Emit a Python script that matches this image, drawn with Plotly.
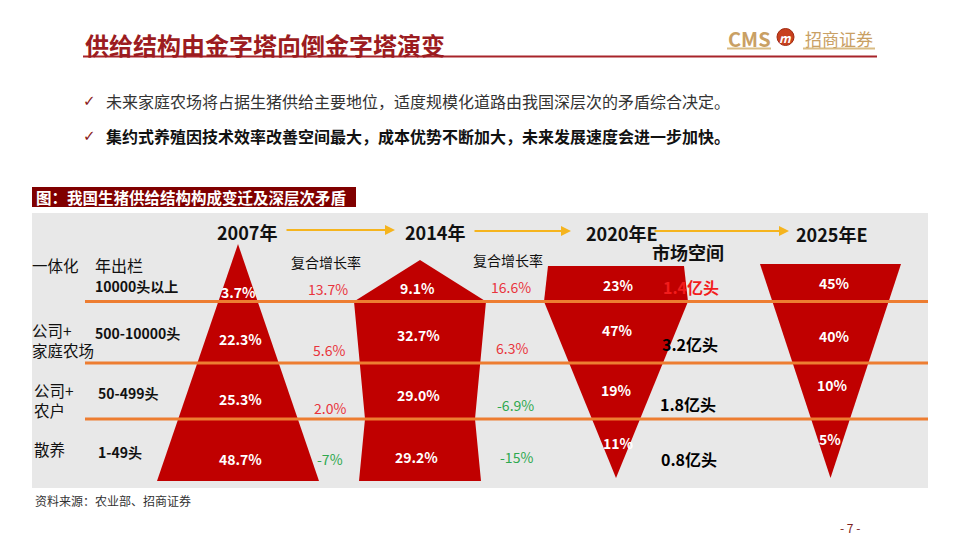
import plotly.graph_objects as go

# ---------------- data ----------------
years = ["2007年", "2014年", "2020年E", "2025年E"]
tier_names = ["一体化", "公司+<br>家庭农场", "公司+<br>农户", "散养"]
tier_scales = ["10000头以上", "500-10000头", "50-499头", "1-49头"]
share_2007 = [3.7, 22.3, 25.3, 48.7]
share_2014 = [9.1, 32.7, 29.0, 29.2]
share_2020e = [23, 47, 19, 11]
share_2025e = [45, 40, 10, 5]
cagr_2007_2014 = [13.7, 5.6, 2.0, -7]
cagr_2014_2020 = [16.6, 6.3, -6.9, -15]
market_space_2020e = [1.4, 3.2, 1.8, 0.8]  # 亿头

title = "供给结构由金字塔向倒金字塔演变"
bullet_1 = "未来家庭农场将占据生猪供给主要地位，适度规模化道路由我国深层次的矛盾综合决定。"
bullet_2 = "集约式养殖因技术效率改善空间最大，成本优势不断加大，未来发展速度会进一步加快。"
caption = "图：我国生猪供给结构构成变迁及深层次矛盾"
source = "资料来源：农业部、招商证券"

# ---------------- geometry / style ----------------
FONT = "Noto Sans CJK SC"
RED = "#C00000"
ORANGE = "#ED7D31"
CAGR_POS = "#E8343C"
CAGR_NEG = "#2FA84F"
# shape outlines: centre x, y levels and half-widths at those levels
PYR = [
    dict(cx=238, ys=[244, 481], hw=[0, 81]),
    dict(cx=420, ys=[260, 301.5, 419, 481], hw=[0, 66, 55, 61]),
    dict(cx=616, ys=[266, 301.5, 478], hw=[68, 72, 0]),
    dict(cx=830.5, ys=[264, 478], hw=[70.5, 0]),
]
SHARE_POS = [
    ([238, 240, 240, 240], [292, 339, 399, 459]),
    ([417, 418, 418, 416], [288, 335, 395, 457]),
    ([618, 617, 616, 618], [285, 330, 390, 443]),
    ([834, 834, 832, 830], [283, 336, 385, 439]),
]
YEAR_POS = [(247, 232), (435, 232), (622, 233), (832, 234)]
CAGR_POS_XY = [
    ([328, 329, 330, 330], [289, 350, 408, 459]),
    ([511, 512, 515, 516], [287, 348, 405, 457]),
]
MARKET_POS = ([691, 690, 688, 689], [290, 347, 407, 462])
TIER_NAME_POS = [(30, 265), (30, 340), (32, 400), (32, 449)]
TIER_SCALE_POS = [(93, 286), (93, 333), (96, 393), (96, 452)]
DIVIDERS = [301.5, 363, 419]

fig = go.Figure()
ann = []


def add_text(x, y, text, size, color="#000000", bold=False, xanchor="center",
             family=FONT):
    ann.append(dict(x=x, y=y, xref="x", yref="y", text=text, showarrow=False,
                    xanchor=xanchor, yanchor="middle", align="left",
                    font=dict(family=family, size=size, color=color,
                              weight="bold" if bold else "normal")))


# pyramids
for p in PYR:
    xs = [p["cx"] + h for h in p["hw"]] + [p["cx"] - h for h in reversed(p["hw"])]
    ys = list(p["ys"]) + list(reversed(p["ys"]))
    fig.add_trace(go.Scatter(x=xs, y=ys, mode="lines", fill="toself",
                             fillcolor=RED, line=dict(width=0, color=RED),
                             hoverinfo="skip"))

# market space labels
mk_colors = ["#F21C1C", "#000000", "#000000", "#000000"]
fig.add_trace(go.Scatter(
    x=MARKET_POS[0], y=MARKET_POS[1], mode="text",
    text=[f"<b>{v}亿头</b>" for v in market_space_2020e],
    textfont=dict(family=FONT, size=16, color=mk_colors),
    hoverinfo="skip"))

shapes = []
# grey panel
shapes.append(dict(type="rect", xref="x", yref="y", x0=32, x1=928, y0=213, y1=488,
                   fillcolor="#E8E8E8", line=dict(width=0), layer="below"))
# caption box
shapes.append(dict(type="rect", xref="x", yref="y", x0=32, x1=356, y0=187, y1=207,
                   fillcolor="#800000", line=dict(width=0), layer="below"))
# title underline
shapes.append(dict(type="line", xref="x", yref="y", x0=83, x1=877, y0=56.5, y1=56.5,
                   line=dict(color="#A8242A", width=2)))
# logo underlines
shapes.append(dict(type="line", xref="x", yref="y", x0=727, x1=771, y0=48.5, y1=48.5,
                   line=dict(color="#D9BC84", width=2)))
shapes.append(dict(type="line", xref="x", yref="y", x0=803, x1=875, y0=48.5, y1=48.5,
                   line=dict(color="#D9BC84", width=2)))
shapes.append(dict(type="circle", xref="x", yref="y", x0=777, x1=794, y0=28.5, y1=45.5,
                   fillcolor="#C8401E", line=dict(color="#A02A10", width=1)))
# divider lines
for yv in DIVIDERS:
    shapes.append(dict(type="line", xref="x", yref="y", x0=85, x1=928, y0=yv, y1=yv,
                       line=dict(color=ORANGE, width=3), layer="above"))

# header texts
add_text(83, 44, title, 24, "#9C1C21", bold=True, xanchor="left")
add_text(749, 38, "CMS", 20, "#C9A064", bold=True)
add_text(785.5, 37, "<i>m</i>", 12, "#FFFFFF", bold=True)
add_text(839, 38, "招商证券", 17, "#C9A064")
add_text(89, 101, "✓", 15, "#8B1A1A", family="DejaVu Sans")
add_text(89, 136, "✓", 15, "#8B1A1A", family="DejaVu Sans")
add_text(104, 101, bullet_1, 16, "#333333", xanchor="left")
add_text(104, 136, bullet_2, 16, "#111111", bold=True, xanchor="left")
add_text(34, 197, caption, 15.5, "#FFFFFF", bold=True, xanchor="left")
add_text(33, 500, source, 12, "#333333", xanchor="left")
add_text(850, 527, "- 7 -", 12, "#7A2020")

# year headers + arrows
for (x, y), t in zip(YEAR_POS, years):
    add_text(x, y, t, 18, "#111111", bold=True)
for x0, x1, y in [(285, 395, 230), (473, 571, 231), (653, 789, 231)]:
    ann.append(dict(x=x1, y=y, ax=x0, ay=y, xref="x", yref="y", axref="x", ayref="y",
                    text="", showarrow=True, arrowhead=2, arrowsize=1, arrowwidth=2,
                    arrowcolor="#F5B41E"))

# tier labels
for (x, y), t in zip(TIER_NAME_POS, tier_names):
    add_text(x, y, t, 15.5, "#111111", xanchor="left")
add_text(93, 265, "年出栏", 16, "#111111", xanchor="left")
for (x, y), t in zip(TIER_SCALE_POS, tier_scales):
    add_text(x, y, t, 14, "#111111", bold=True, xanchor="left")

# shares inside shapes
for (xs, ys), vals in zip(SHARE_POS, [share_2007, share_2014, share_2020e, share_2025e]):
    for x, y, v in zip(xs, ys, vals):
        add_text(x, y, f"{v}%", 14, "#FFFFFF", bold=True)

# CAGR columns
add_text(326, 262, "复合增长率", 14, "#111111")
add_text(508, 260, "复合增长率", 14, "#111111")
for (xs, ys), vals in zip(CAGR_POS_XY, [cagr_2007_2014, cagr_2014_2020]):
    for x, y, v in zip(xs, ys, vals):
        add_text(x, y, f"{v}%", 14, CAGR_POS if v >= 0 else CAGR_NEG)

add_text(688, 252, "市场空间", 18, "#111111", bold=True)

fig.update_layout(
    width=960, height=540, margin=dict(l=0, r=0, t=0, b=0),
    paper_bgcolor="white", plot_bgcolor="white", showlegend=False,
    xaxis=dict(range=[0, 960], visible=False, fixedrange=True),
    yaxis=dict(range=[540, 0], visible=False, fixedrange=True),
    shapes=shapes, annotations=ann,
)

fig.write_html("out.html", config={"displayModeBar": False},
               post_script="document.body.style.margin='0';"
                           "document.body.style.overflow='hidden';")
